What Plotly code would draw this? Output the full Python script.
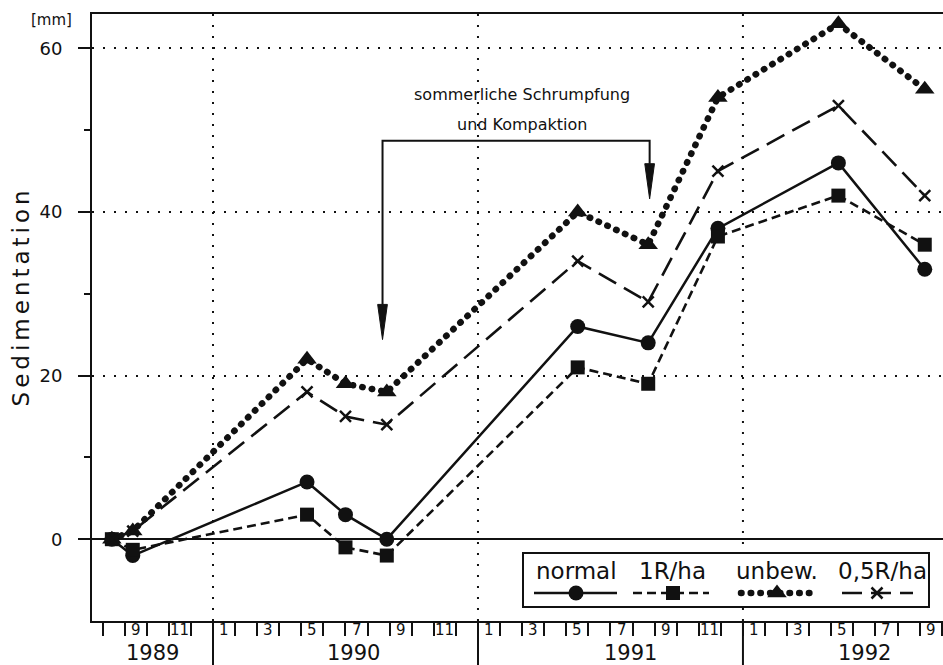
import pandas as pd
import plotly.graph_objects as go

# --- measurement dates and sedimentation values [mm] ---------------------
dates = ["1989-08-14", "1989-09-12", "1990-05-09", "1990-07-01", "1990-08-28",
         "1991-05-17", "1991-08-23", "1991-11-27", "1992-05-11", "1992-09-08"]
normal = [0, -2, 7, 3, 0, 26, 24, 38, 46, 33]
r1_ha = [0, -1.3, 3, -1, -2, 21, 19, 37, 42, 36]
unbew = [0, 1, 22, 19, 18, 40, 36, 54, 63, 55]
r05_ha = [0, 1, 18, 15, 14, 34, 29, 45, 53, 42]

series_names = ["normal", "1R/ha", "unbew.", "0,5R/ha"]
years = ["1989", "1990", "1991", "1992"]
y_ticks = [0, 20, 40, 60]
y_minor = [10, 30, 50]

note_lines = ["sommerliche Schrumpfung", "und Kompaktion"]
arrow_dates = ["1990-08-22", "1991-08-25"]

FONT = "DejaVu Sans"
BLACK = "#111111"

W, H = 943, 665
M_L, M_R, M_T, M_B = 92, 0, 14, 44
X_RANGE = [6.52, 45.06]
Y_RANGE = [-10, 64.2]


def month_pos(s):
    """Fractional months since 1 Jan 1989."""
    t = pd.Timestamp(s)
    return (t.year - 1989) * 12 + (t.month - 1) + (t.day - 1) / t.days_in_month


def px_x(px):
    """Horizontal page pixel -> x axis value (used for the legend box)."""
    return X_RANGE[0] + (px - M_L) / (W - M_L - M_R) * (X_RANGE[1] - X_RANGE[0])


def px_y(py):
    """Vertical page pixel -> y axis value (used for the legend box)."""
    return Y_RANGE[1] - (py - M_T) / (H - M_T - M_B) * (Y_RANGE[1] - Y_RANGE[0])


x = [month_pos(d) for d in dates]

DOTS = "0.5px,9.2px"
styles = [
    dict(dash="solid", width=2.5, symbol="circle", size=15),
    dict(dash="9px,5px", width=2.6, symbol="square", size=14),
    dict(dash=DOTS, width=6.5, symbol="triangle-up", size=17),
    dict(dash="20px,9px", width=2.6, symbol="x-thin", size=11),
]


def marker_for(st, size):
    return dict(symbol=st["symbol"], size=size, color=BLACK, opacity=1,
                line=dict(width=2.5 if st["symbol"] == "x-thin" else 0,
                          color=BLACK))


fig = go.Figure()
for name, vals, st in zip(series_names, [normal, r1_ha, unbew, r05_ha], styles):
    fig.add_trace(go.Scatter(
        x=x, y=vals, name=name, mode="lines+markers", showlegend=False,
        line=dict(color=BLACK, width=st["width"], dash=st["dash"]),
        marker=marker_for(st, st["size"]),
        cliponaxis=False,
    ))

shapes = []
annotations = []

# vertical dotted grid and long year separators below the axis
for yb in (12, 24, 36):
    shapes.append(dict(type="line", xref="x", yref="paper", x0=yb, x1=yb,
                       y0=0, y1=1, layer="below",
                       line=dict(color=BLACK, width=2, dash="2px,9px")))
    shapes.append(dict(type="line", xref="x", yref="paper", x0=yb, x1=yb,
                       y0=0, y1=-0.075, line=dict(color=BLACK, width=2)))

# month labels (odd months) centred in their month
for k in range(7, 45):
    month = k % 12 + 1
    if month % 2 == 1:
        annotations.append(dict(x=k + 0.5, y=-0.0145, xref="x", yref="paper",
                                text=str(month), showarrow=False,
                                yanchor="middle", xanchor="center",
                                font=dict(family=FONT, size=15, color=BLACK)))

# year labels
year_label_x = [9.25, 18.35, 30.9, 41.5]
for yr, xp in zip(years, year_label_x):
    annotations.append(dict(x=xp, y=-0.053, xref="x", yref="paper", text=yr,
                            showarrow=False, yanchor="middle", xanchor="center",
                            font=dict(family=FONT, size=21, color=BLACK)))

# unit label and axis title
annotations.append(dict(x=-0.048, y=0.99, xref="paper", yref="paper",
                        text="[mm]", showarrow=False, xanchor="center",
                        yanchor="middle",
                        font=dict(family=FONT, size=15, color=BLACK)))
annotations.append(dict(x=-0.084, y=0.534, xref="paper", yref="paper",
                        text='<span style="letter-spacing:4px">Sedimentation</span>',
                        textangle=-90, showarrow=False, xanchor="center",
                        yanchor="middle",
                        font=dict(family=FONT, size=23, color=BLACK)))

# bracket arrow for summer shrinkage
xa = [month_pos(d) for d in arrow_dates]
bracket_y = 48.7
tips = [24.4, 41.6]
head_len = 4.3
head_half = 0.22
shapes.append(dict(type="path", xref="x", yref="y",
                   path=f"M {xa[0]},{tips[0] + head_len} L {xa[0]},{bracket_y} "
                        f"L {xa[1]},{bracket_y} L {xa[1]},{tips[1] + head_len}",
                   line=dict(color=BLACK, width=2)))
for xv, tp in zip(xa, tips):
    shapes.append(dict(type="path", xref="x", yref="y",
                       path=f"M {xv - head_half},{tp + head_len} "
                            f"L {xv + head_half},{tp + head_len} L {xv},{tp} Z",
                       fillcolor=BLACK, line=dict(color=BLACK, width=1)))
note_x = 26.0
for txt, yv in zip(note_lines, [54.4, 50.7]):
    annotations.append(dict(x=note_x, y=yv, xref="x", yref="y", text=txt,
                            showarrow=False, xanchor="center", yanchor="middle",
                            font=dict(family=FONT, size=16, color=BLACK)))

# legend box with keys (text above each line sample)
shapes.append(dict(type="rect", xref="x", yref="y",
                   x0=px_x(523), x1=px_x(929), y0=px_y(553), y1=px_y(607),
                   layer="between", fillcolor="white",
                   line=dict(color=BLACK, width=2)))
key_x = [(534, 576, 617), (633, 673, 709), (741, 777, 812), (842, 877, 913)]
text_x = [576, 672, 777, 882]
for name, st, (x0, xm, x1), tx in zip(series_names, styles, key_x, text_x):
    fig.add_trace(go.Scatter(
        x=[px_x(x0), px_x(xm), px_x(x1)], y=[px_y(593)] * 3,
        mode="lines+markers", showlegend=False, hoverinfo="skip",
        line=dict(color=BLACK, width=st["width"], dash=st["dash"]),
        marker=marker_for(st, [0, st["size"], 0]),
    ))
    annotations.append(dict(x=px_x(tx), y=px_y(571), xref="x", yref="y",
                            text=name, showarrow=False, xanchor="center",
                            yanchor="middle",
                            font=dict(family=FONT, size=23, color=BLACK)))

fig.update_layout(
    width=W, height=H,
    margin=dict(l=M_L, r=M_R, t=M_T, b=M_B),
    paper_bgcolor="white", plot_bgcolor="white",
    font=dict(family=FONT, color=BLACK),
    shapes=shapes, annotations=annotations,
    xaxis=dict(range=X_RANGE, showline=True, linecolor=BLACK, linewidth=2,
               mirror=True, showgrid=False, zeroline=False,
               tickmode="array", tickvals=list(range(7, 46)),
               ticks="outside", ticklen=13, tickwidth=2, tickcolor=BLACK,
               showticklabels=False),
    yaxis=dict(range=Y_RANGE, showline=True, linecolor=BLACK, linewidth=2,
               mirror=False, tickmode="array", tickvals=y_ticks,
               ticks="outside", ticklen=12, tickwidth=2, tickcolor=BLACK,
               ticklabelstandoff=12,
               tickfont=dict(family=FONT, size=18, color=BLACK),
               showgrid=True, gridcolor=BLACK, gridwidth=2, griddash="2px,9px",
               zeroline=True, zerolinecolor=BLACK, zerolinewidth=2,
               minor=dict(tickvals=y_minor, ticks="outside", ticklen=6,
                          tickwidth=2, tickcolor=BLACK, showgrid=False)),
)

# round caps turn the near-zero dashes of the "unbew." line into dots
post = """
document.querySelectorAll('path.js-line').forEach(function(p){
  var d = p.style.strokeDasharray || '';
  if (d.indexOf('0.5px') === 0) { p.style.strokeLinecap = 'round'; }
});
"""
fig.write_html("out.html", post_script=post)
